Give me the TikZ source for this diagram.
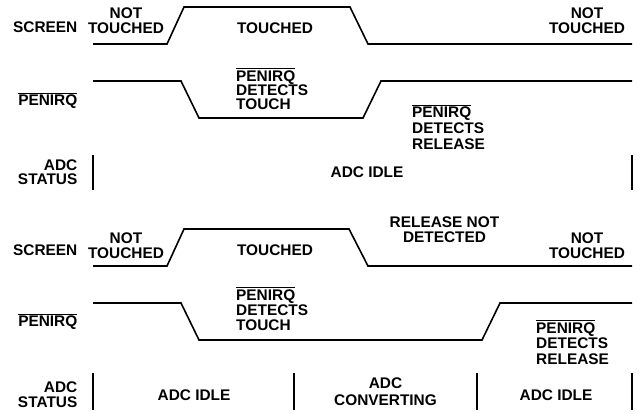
\documentclass[tikz,border=0pt]{standalone}
\usepackage{fontspec}
\setmainfont{Liberation Sans}
\newcommand\penbar{\leavevmode\vbox{\hrule height 0.9pt \kern 1.3pt \hbox{PENIRQ}}}
\begin{document}
\begin{tikzpicture}[x=1pt,y=-1pt,
  lbl/.style={font=\bfseries\fontsize{15.4}{15}\selectfont, inner sep=0pt, align=center},
  rlbl/.style={lbl, anchor=east, align=right},
  llbl/.style={lbl, anchor=west, align=left},
  tight/.style={font=\bfseries\fontsize{15.4}{14.3}\selectfont},
  loose/.style={font=\bfseries\fontsize{15.4}{15.7}\selectfont},
  wave/.style={line width=1.6pt, line join=miter},
  bar/.style={line width=1.2pt}]
\useasboundingbox (0,0) rectangle (642,413);
% ---------- top diagram ----------
\node[rlbl] (scr1) at (77.5,27) {SCREEN};
\node[lbl] (nt1a) at (126,21) {NOT\\TOUCHED};
\node[lbl] (t1) at (275,28) {TOUCHED};
\node[lbl] (nt1b) at (587,21) {NOT\\TOUCHED};
\draw[wave] (93,44) -- (167,44) -- (184,7) -- (350,7) -- (368,44) -- (632,44);
\node[rlbl] (pen1) at (77.5,101) {\penbar};
\node[llbl, tight] (dt1) at (236,89) {\penbar\\DETECTS\\TOUCH};
\node[llbl, loose] (dr1) at (412,127) {\penbar\\DETECTS\\RELEASE};
\draw[wave] (93,81) -- (181,81) -- (199,118) -- (363,118) -- (381,81) -- (632,81);
\node[rlbl, tight] (st1) at (77.5,172.5) {ADC\\STATUS};
\node[lbl] (idle1) at (367,172) {ADC IDLE};
\draw[bar] (93,155) -- (93,190);
\draw[bar] (632,155) -- (632,190);
% ---------- bottom diagram ----------
\node[rlbl] (scr2) at (77.5,250) {SCREEN};
\node[lbl] (nt2a) at (126,246) {NOT\\TOUCHED};
\node[lbl] (t2) at (275,250) {TOUCHED};
\node[lbl] (rnd) at (444.5,230) {RELEASE NOT\\DETECTED};
\node[lbl] (nt2b) at (587,246) {NOT\\TOUCHED};
\draw[wave] (93,266) -- (167,266) -- (184,229) -- (349,229) -- (368,266) -- (632,266);
\node[rlbl] (pen2) at (77.5,322) {\penbar};
\node[llbl] (dt2) at (236,309) {\penbar\\DETECTS\\TOUCH};
\node[llbl, loose] (dr2) at (536,342.5) {\penbar\\DETECTS\\RELEASE};
\draw[wave] (93,303) -- (181,303) -- (199,340) -- (482,340) -- (500,303) -- (632,303);
\node[rlbl] (st2) at (77.5,394.5) {ADC\\STATUS};
\node[lbl] (idle2) at (194,395) {ADC IDLE};
\node[lbl, font=\bfseries\fontsize{15.4}{17}\selectfont] (conv) at (385.5,392) {ADC\\CONVERTING};
\node[lbl] (idle3) at (556,395) {ADC IDLE};
\draw[bar] (93,373) -- (93,410);
\draw[bar] (294,373) -- (294,410);
\draw[bar] (477,373) -- (477,410);
\draw[bar] (632,373) -- (632,410);
\end{tikzpicture}
\end{document}
